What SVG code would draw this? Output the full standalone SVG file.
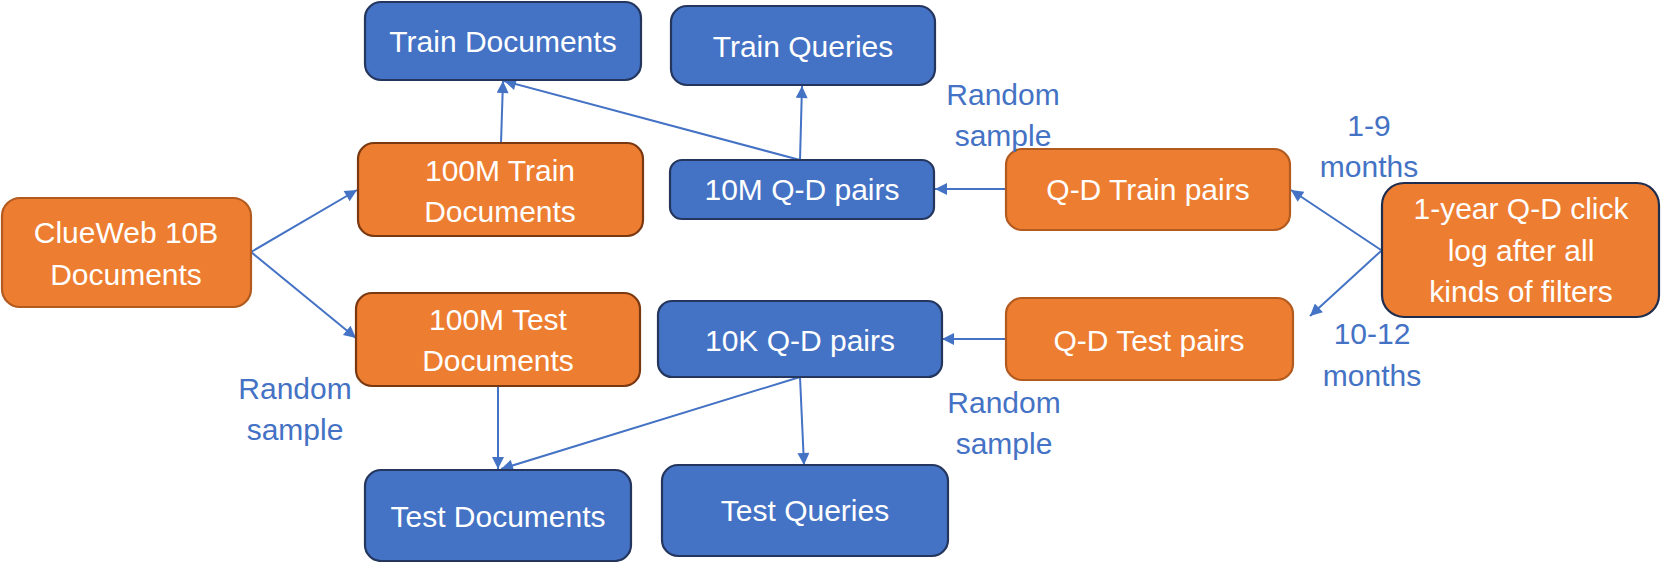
<svg xmlns="http://www.w3.org/2000/svg" width="1661" height="562" viewBox="0 0 1661 562">
<style>
.blue{fill:#4472C4;stroke:#24365E;stroke-width:2.2}
.org{fill:#ED7D31;stroke:#B35A1F;stroke-width:2.2}
.orgd{fill:#ED7D31;stroke:#7A3810;stroke-width:2.2}
.orgn{fill:#ED7D31;stroke:#1F2E4F;stroke-width:2.2}
.t{font-family:"Liberation Sans",Arial,sans-serif;font-size:30px;fill:#FFFFFF;text-anchor:middle}
.l{font-family:"Liberation Sans",Arial,sans-serif;font-size:30px;fill:#4472C4;text-anchor:middle}
.c{stroke:#4472C4;stroke-width:2;fill:none;marker-end:url(#ah)}
</style>
<defs>
<marker id="ah" viewBox="0 0 10 10" refX="10" refY="5" markerWidth="14" markerHeight="12" markerUnits="userSpaceOnUse" orient="auto">
<path d="M0,0 L10,5 L0,10 z" fill="#4472C4"/>
</marker>
</defs>
<g id="connectors">
<line class="c" x1="501" y1="143" x2="503" y2="81"/>
<line class="c" x1="800" y1="160" x2="504" y2="81"/>
<line class="c" x1="800" y1="160" x2="802" y2="86"/>
<line class="c" x1="1006" y1="189" x2="935" y2="189"/>
<line class="c" x1="1381" y1="250" x2="1291" y2="190"/>
<line class="c" x1="1381" y1="251" x2="1310" y2="316"/>
<line class="c" x1="1006" y1="339" x2="942" y2="339"/>
<line class="c" x1="800" y1="377" x2="501" y2="469"/>
<line class="c" x1="800" y1="377" x2="804" y2="465"/>
<line class="c" x1="498" y1="386" x2="498" y2="469"/>
<line class="c" x1="251" y1="252" x2="357" y2="190"/>
<line class="c" x1="251" y1="252" x2="356" y2="338"/>
</g>
<g id="train-documents">
<rect class="blue" x="365" y="2" width="276" height="78" rx="16"/>
<text class="t" x="503" y="52">Train Documents</text>
</g>
<g id="train-queries">
<rect class="blue" x="671" y="6" width="264" height="79" rx="16"/>
<text class="t" x="803" y="57">Train Queries</text>
</g>
<g id="train-100m">
<rect class="orgd" x="358" y="143" width="285" height="93" rx="16"/>
<text class="t" x="500" y="181">100M Train</text>
<text class="t" x="500" y="222">Documents</text>
</g>
<g id="clueweb">
<rect class="org" x="2" y="198" width="249" height="109" rx="18"/>
<text class="t" x="126" y="243">ClueWeb 10B</text>
<text class="t" x="126" y="285">Documents</text>
</g>
<g id="pairs-10m">
<rect class="blue" x="670" y="160" width="264" height="59" rx="12"/>
<text class="t" x="802" y="200">10M Q-D pairs</text>
</g>
<g id="qd-train">
<rect class="org" x="1006" y="149" width="284" height="81" rx="16"/>
<text class="t" x="1148" y="200">Q-D Train pairs</text>
</g>
<g id="click-log">
<rect class="orgn" x="1382" y="183" width="277" height="134" rx="22"/>
<text class="t" x="1521" y="219">1-year Q-D click</text>
<text class="t" x="1521" y="261">log after all</text>
<text class="t" x="1521" y="302">kinds of filters</text>
</g>
<g id="test-100m">
<rect class="orgd" x="356" y="293" width="284" height="93" rx="16"/>
<text class="t" x="498" y="330">100M Test</text>
<text class="t" x="498" y="371">Documents</text>
</g>
<g id="pairs-10k">
<rect class="blue" x="658" y="301" width="284" height="76" rx="14"/>
<text class="t" x="800" y="351">10K Q-D pairs</text>
</g>
<g id="qd-test">
<rect class="org" x="1006" y="298" width="287" height="82" rx="16"/>
<text class="t" x="1149" y="351">Q-D Test pairs</text>
</g>
<g id="test-documents">
<rect class="blue" x="365" y="470" width="266" height="91" rx="16"/>
<text class="t" x="498" y="527">Test Documents</text>
</g>
<g id="test-queries">
<rect class="blue" x="662" y="465" width="286" height="91" rx="16"/>
<text class="t" x="805" y="521">Test Queries</text>
</g>
<g id="labels">
<text class="l" x="1003" y="105">Random</text>
<text class="l" x="1003" y="146">sample</text>
<text class="l" x="1369" y="136">1-9</text>
<text class="l" x="1369" y="177">months</text>
<text class="l" x="1372" y="344">10-12</text>
<text class="l" x="1372" y="386">months</text>
<text class="l" x="295" y="399">Random</text>
<text class="l" x="295" y="440">sample</text>
<text class="l" x="1004" y="413">Random</text>
<text class="l" x="1004" y="454">sample</text>
</g>
</svg>
